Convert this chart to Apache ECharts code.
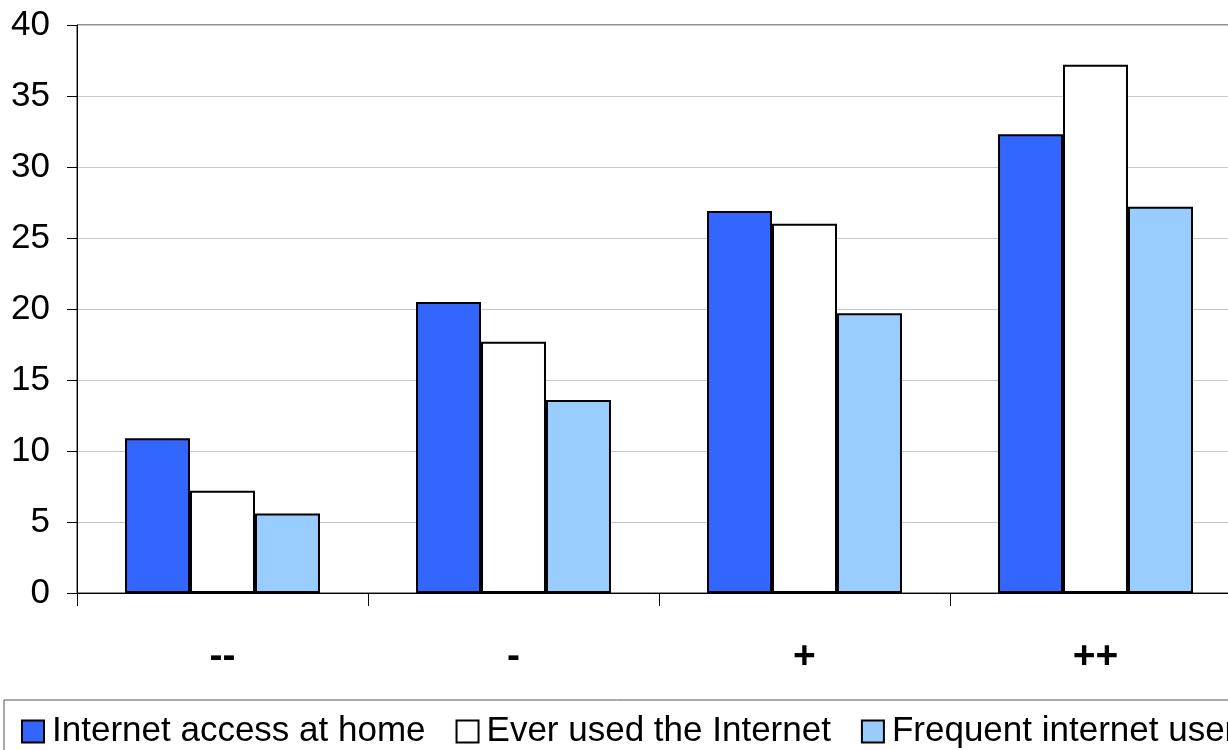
<!DOCTYPE html>
<html>
<head>
<meta charset="utf-8">
<script src="https://cdn.jsdelivr.net/npm/echarts@6/dist/echarts.min.js"></script>
<style>
html,body{margin:0;padding:0;background:#fff;}
#chart{width:1228px;height:750px;}
</style>
</head>
<body>
<div id="chart"></div>
<script>
const categories = ['--', '-', '+', '++'];
const seriesNames = ['Internet access at home', 'Ever used the Internet', 'Frequent internet users'];
const homeAccess = [10.9, 20.5, 26.9, 32.3];
const everUsed = [7.2, 17.7, 26.0, 37.2];
const frequentUsers = [5.6, 13.6, 19.7, 27.2];
const yTicks = [0, 5, 10, 15, 20, 25, 30, 35, 40];

const colors = ['#3366FF', '#FFFFFF', '#99CCFF'];
const values = [homeAccess, everUsed, frequentUsers];
const font = '"Liberation Sans", Arial, sans-serif';

const chart = echarts.init(document.getElementById('chart'), null, {renderer: 'canvas'});
chart.setOption({
  animation: false,
  textStyle: {fontFamily: font},
  grid: {
    left: 77, top: 25, bottom: 157, width: 1164,
    outerBoundsMode: 'none', containLabel: false,
    show: true, borderColor: '#222', borderWidth: 1, backgroundColor: 'transparent'
  },
  legend: {
    data: seriesNames,
    left: 4, top: 700,
    width: 1400,
    orient: 'horizontal',
    itemWidth: 22, itemHeight: 22,
    itemGap: 30,
    padding: [14, 80, 30, 17],
    borderColor: '#555', borderWidth: 1,
    textStyle: {fontSize: 35, color: '#000', fontFamily: font, padding: [0, 0, 0, 3]},
    icon: 'rect',
    selectedMode: false
  },
  xAxis: {
    type: 'category',
    data: categories,
    axisLine: {lineStyle: {color: '#000', width: 1}},
    axisTick: {show: true, length: 13, interval: 0, lineStyle: {color: '#000'}},
    axisLabel: {fontSize: 39, fontWeight: 'bold', color: '#000', margin: 45, fontFamily: font, interval: 0},
    splitLine: {show: false}
  },
  yAxis: {
    type: 'value',
    min: yTicks[0], max: yTicks[yTicks.length - 1], interval: 5,
    axisLine: {show: true, lineStyle: {color: '#000', width: 1}},
    axisTick: {show: true, length: 10, lineStyle: {color: '#000'}},
    axisLabel: {fontSize: 35, color: '#000', margin: 27, fontFamily: font},
    splitLine: {show: true, lineStyle: {color: '#c8c8c8', width: 1}}
  },
  series: seriesNames.map((name, i) => ({
    name: name,
    type: 'bar',
    data: values[i],
    barGap: '0%',
    barCategoryGap: '33%',
    itemStyle: {color: colors[i], borderColor: '#000', borderWidth: 2}
  }))
});
</script>
</body>
</html>
